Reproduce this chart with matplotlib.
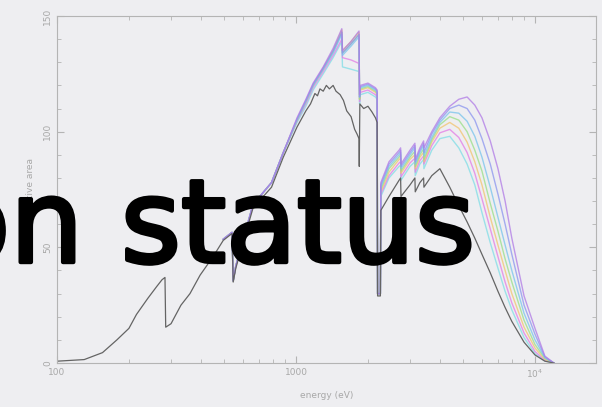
import matplotlib
matplotlib.use('Agg')
import matplotlib.pyplot as plt
import matplotlib.patheffects as pe
from matplotlib.ticker import FixedLocator, MultipleLocator, NullFormatter

# ---------------- data ----------------
energy_gray = [100, 130, 155, 178, 200, 215, 240, 261, 275, 283, 285, 300, 330, 360,
               397, 450, 496, 540, 546, 560, 600, 661, 790, 885, 1010, 1100, 1150,
               1200, 1230, 1260, 1300, 1340, 1380, 1430, 1470, 1530, 1580, 1630,
               1700, 1760, 1800, 1835, 1840, 1850, 1920, 2000, 2080, 2150, 2185,
               2195, 2255, 2265, 2450, 2700, 2740, 2750, 3000, 3145, 3155, 3300,
               3420, 3430, 3700, 4000, 4400, 4800, 5200, 5600, 6000, 6500, 7000,
               7500, 8000, 9000, 10000, 11000, 12000]
area_gray = [0.8, 1.5, 4.5, 10, 15, 21, 28, 33, 36, 37, 15.5, 17, 25, 30,
             38, 46, 53, 56, 35, 41, 52, 67, 76, 89, 102, 109, 112,
             116.5, 115.5, 118.5, 117.5, 120, 118.5, 120, 117.5, 116, 113.5, 109,
             106.5, 101, 99, 97, 85, 112, 110, 111, 108.5, 106, 104,
             29, 29, 66, 72, 79, 80, 72, 77, 80, 74, 78,
             80, 76, 81, 84, 76, 68, 61, 54, 47, 39, 31,
             24, 18, 9, 3.5, 0.8, 0]

energy_low = [496, 540, 546, 560, 600, 661, 790, 885]
area_low = [53.5, 56.5, 35.5, 42, 53, 68.5, 78, 91]

energy_hi = [1010, 1100, 1180, 1300, 1430, 1555, 1565, 1700, 1835, 1845, 1860, 2000,
             2150, 2185, 2195, 2255, 2265, 2450, 2700, 2740, 2750, 3000, 3145, 3155,
             3300, 3420, 3430, 3700, 4000, 4400, 4800, 5200, 5600, 6000, 6500, 7000,
             7500, 8000, 9000, 10000, 11000, 12000]

area_c1 = [104, 111, 118, 125, 132, 139, 128, 127, 126, 112, 116, 117,
           115, 114, 30, 30, 72, 80, 85, 85.5, 79, 85, 87, 81,
           86, 88, 84, 92, 97, 98, 93, 86, 77, 65, 52, 41,
           31, 23, 11, 4, 1, 0]
area_c2 = [104.5, 112, 119, 126, 133, 140, 132, 131, 129.5, 113, 117, 118,
           116, 115, 30, 30, 73, 81, 86.5, 87, 80.5, 86.5, 88.5, 82.5,
           87.5, 89.5, 86, 94, 99.5, 101, 97.5, 91, 82, 71, 58, 46,
           35, 26, 13, 5, 1.2, 0]
area_c3 = [105, 113, 120, 127.5, 135, 144, 135, 139, 143, 114, 118, 119,
           117, 116, 30, 30, 74, 82.5, 88, 88.5, 82, 88, 90, 84,
           89, 91, 87, 95.5, 101.5, 104, 101.5, 95.5, 87, 77, 63, 51,
           40, 30, 15.5, 6.5, 1.5, 0]
area_c4 = [105, 113, 120, 127, 134.5, 143, 134, 138, 142, 114, 118.5, 119.5,
           117.5, 116.5, 30, 30, 75, 84, 89, 90, 83, 89, 91.5, 85,
           90, 92.5, 88, 96.5, 103, 106.5, 105, 100, 92, 83, 69, 57,
           45, 35, 18.5, 8, 2, 0]
area_c5 = [105, 113, 120, 127, 134, 142, 133, 137, 141, 115, 119, 120,
           118, 117, 30, 30, 76, 85, 90, 91, 84, 90, 93, 86,
           91, 94, 89.5, 97.5, 104, 108.5, 108, 104.5, 98, 89, 76, 63,
           51, 40, 21.5, 10, 2.3, 0]
area_c6 = [105.5, 113.5, 120.5, 127.5, 135, 143, 134, 138, 142, 115, 119.5, 120.5,
           118.5, 117.5, 30, 30, 77, 86, 91, 92, 85, 91, 94, 87,
           92, 95, 91, 99, 105, 110, 111.5, 110, 105, 97, 86, 73,
           60, 47, 25, 12.5, 2.7, 0]
area_c7 = [106, 114, 121, 128, 136, 144.5, 135, 139, 143.5, 116, 120, 121,
           119, 118, 30, 30, 78, 87, 92, 93, 86, 92, 95, 88,
           93, 96, 93, 100, 106, 111, 114, 115, 111.5, 106, 96, 84,
           70, 54, 29, 15, 3, 0]

colored_series = [area_c1, area_c2, area_c3, area_c4, area_c5, area_c6, area_c7]
colored_colors = ['#7fdde6', '#e27ce6', '#f2c46e', '#98df86', '#78c4ec', '#8b95ef', '#b07ae6']

x_ticks = [100, 1000, 10000]
x_tick_labels = ['100', '1000', '10$^4$']
y_ticks = [0, 50, 100, 150]
y_tick_labels = ['0', '50', '100', '150']

# ---------------- figure ----------------
fig = plt.figure(figsize=(6.02, 4.07), dpi=100, facecolor='#eeeef1')
ax = fig.add_axes([0.0947, 0.108, 0.8953, 0.8527])
ax.set_facecolor('none')

for vals, col in zip(colored_series, colored_colors):
    ax.plot(energy_low + energy_hi, area_low + vals, color=col, lw=1.0, alpha=0.75)
ax.plot(energy_gray, area_gray, color='#646464', lw=0.9)

ax.set_xscale('log')
ax.set_xlim(100, 18000)
ax.set_ylim(0, 150)

ax.xaxis.set_major_locator(FixedLocator(x_ticks))
ax.set_xticklabels(x_tick_labels)
ax.xaxis.set_minor_locator(FixedLocator([m * d for d in (100, 1000) for m in range(2, 10)]
                                        + [20000]))
ax.xaxis.set_minor_formatter(NullFormatter())
ax.yaxis.set_major_locator(FixedLocator(y_ticks))
ax.set_yticklabels(y_tick_labels)
ax.yaxis.set_minor_locator(MultipleLocator(10))

spine_col = '#b4b4b4'
for s in ax.spines.values():
    s.set_color(spine_col)
    s.set_linewidth(0.8)
ax.tick_params(which='both', direction='in', top=True, right=True, color=spine_col,
               labelcolor='#a8a8a8', labelsize=6.5)
ax.tick_params(which='major', length=5)
ax.tick_params(which='minor', length=3)
ax.tick_params(axis='y', labelrotation=90)
for lbl in ax.get_yticklabels():
    lbl.set_va('center')

ax.set_xlabel('energy (eV)', color='#a8a8a8', fontsize=6.5, labelpad=8)
ax.set_ylabel('effective area', color='#a8a8a8', fontsize=6.5, labelpad=6)

thick = [pe.withStroke(linewidth=3, foreground='black')]
fig.text(0.138, 0.356, 'on', ha='right', va='baseline', fontsize=83,
         color='black', family='DejaVu Sans', zorder=10, path_effects=thick)
fig.text(0.789, 0.356, 'status', ha='right', va='baseline', fontsize=83,
         color='black', family='DejaVu Sans', zorder=10, path_effects=thick)

fig.savefig('out.png', dpi=100, facecolor=fig.get_facecolor())
